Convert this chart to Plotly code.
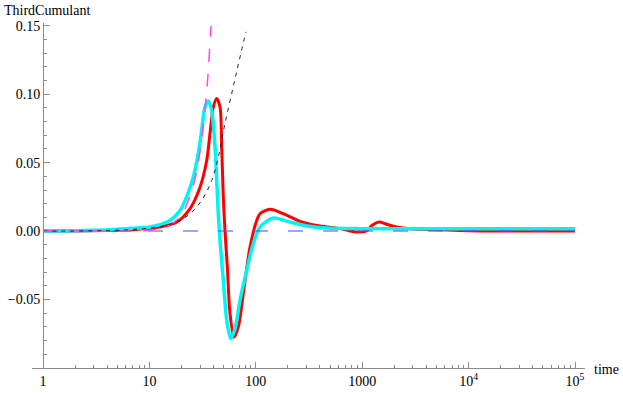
import plotly.graph_objects as go

# values (time on a log axis)
red_t = [1, 2, 4, 7, 10, 12.6, 18.1, 24.1, 29.9, 34.6, 37.1, 39.9, 42.9, 46.1, 47.8,
         49.5, 51.3, 54.0, 57.2, 62.4, 68.5, 76.3, 88.2, 102, 109.5, 136, 181, 260,
         401, 619, 750, 888, 1086, 1250, 1439, 1700, 2110, 2813, 5383, 10000, 100000]
red_v = [0, 0.0001, 0.0004, 0.001, 0.002, 0.003, 0.0066, 0.0164, 0.032, 0.0517, 0.0712,
         0.0906, 0.0968, 0.0906, 0.0614, 0.0249, 0.0005, -0.0263, -0.060, -0.0775, -0.070,
         -0.0458, -0.0117, 0.0078, 0.0127, 0.0159, 0.0127, 0.0071, 0.0037, 0.0018, 0.0003,
         -0.0007, 0.0, 0.0045, 0.0066, 0.005, 0.003, 0.0018, 0.001, 0.0003, 0.0]

cyan_t = [1, 2, 4.26, 7, 10.1, 15.6, 19.4, 22.4, 25.9, 28.8, 31.0, 33.3, 35.8, 38.5,
          41.4, 42.9, 44.4, 46.1, 49.5, 53.3, 58.1, 63.8, 71.0, 82.1, 94.7, 109.5, 146,
          209.6, 301, 464, 953, 2000, 10000, 100000]
cyan_v = [0, 0.0003, 0.001, 0.002, 0.003, 0.0078, 0.015, 0.025, 0.0395, 0.0566, 0.0736,
          0.0906, 0.095, 0.088, 0.0614, 0.037, 0.0127, -0.0068, -0.036, -0.065, -0.0785,
          -0.0713, -0.0507, -0.0287, -0.0092, 0.003, 0.0095, 0.0066, 0.0037, 0.0022,
          0.0018, 0.0018, 0.0018, 0.0018]

magenta_t = [1, 3, 6, 10, 15, 20, 23.1, 26.8, 30, 34.2, 36, 37.9]
magenta_v = [0, 0.0, 0.0001, 0.0007, 0.0037, 0.0116, 0.022, 0.038, 0.059, 0.098, 0.121, 0.150]

black_t = [1, 3, 6, 8.76, 12, 18.1, 24.1, 31.0, 38.5, 44.4, 51.3, 61.4, 70, 80.9]
black_v = [0, 0.0002, 0.0009, 0.0018, 0.003, 0.0066, 0.0127, 0.0224, 0.037, 0.054,
           0.0785, 0.1055, 0.125, 0.1455]

zero_t = [1, 100000]
zero_v = [0, 0]

x_ticks = [1, 10, 100, 1000, 10000, 100000]
x_labels = ['1', '10', '100', '1000', '10<sup>4</sup>', '10<sup>5</sup>']
x_minor = [m * d for d in [1, 10, 100, 1000, 10000] for m in range(2, 10)]
y_ticks = [-0.05, 0.0, 0.05, 0.10, 0.15]
y_labels = ['\u22120.05', '0.00', '0.05', '0.10', '0.15']
y_minor = [i / 100 for i in range(-10, 16) if i % 5 != 0]

AXIS = '#8c8c8c'
FONT = 'Liberation Serif, Times New Roman, serif'

traces = [
    go.Scatter(x=red_t, y=red_v, mode='lines',
               line=dict(color='#ff0000', width=3, shape='spline', smoothing=0.8)),
    go.Scatter(x=cyan_t, y=cyan_v, mode='lines',
               line=dict(color='#00f4f4', width=3.5, shape='spline', smoothing=0.8)),
    go.Scatter(x=zero_t, y=zero_v, mode='lines',
               line=dict(color='rgba(80,80,255,0.7)', width=1.5, dash='15px,20px')),
    go.Scatter(x=magenta_t, y=magenta_v, mode='lines',
               line=dict(color='#ff44ff', width=1.5, dash='13px,12px', shape='spline')),
    go.Scatter(x=black_t, y=black_v, mode='lines',
               line=dict(color='#222222', width=1, dash='4px,5px', shape='spline')),
]

layout = go.Layout(
    font=dict(family=FONT, size=14, color='black'),
    showlegend=False,
    xaxis=dict(
        type='log',
        range=[-0.1034, 5.094],
        automargin=False,
        showline=True, linecolor=AXIS, linewidth=1,
        ticks='inside', ticklen=6, tickcolor=AXIS,
        tickmode='array', tickvals=x_ticks, ticktext=x_labels,
        minor=dict(ticks='inside', ticklen=3, tickcolor=AXIS,
                   tickmode='array', tickvals=x_minor),
        showgrid=False, zeroline=False,
    ),
    yaxis=dict(
        range=[-0.1, 0.152],
        automargin=False,
        anchor='free', position=11 / 553,
        showline=True, linecolor=AXIS, linewidth=1,
        ticks='inside', ticklen=6, tickcolor=AXIS,
        tickmode='array', tickvals=y_ticks, ticktext=y_labels,
        minor=dict(ticks='inside', ticklen=3, tickcolor=AXIS,
                   tickmode='array', tickvals=y_minor),
        showgrid=False, zeroline=False,
    ),
    annotations=[
        dict(text='ThirdCumulant', xref='paper', yref='paper',
             x=(2 - 32) / 553, y=(368 - 11) / 345, xanchor='left', yanchor='middle',
             showarrow=False),
        dict(text='time', xref='paper', yref='paper',
             x=(621 - 32) / 553, y=(368 - 369) / 345, xanchor='right', yanchor='middle',
             showarrow=False),
    ],
    plot_bgcolor='white',
    paper_bgcolor='white',
    width=623,
    height=393,
    margin=dict(l=32, r=38, t=23, b=25),
)

fig = go.Figure(data=traces, layout=layout)
# drop the page's default body margin so the figure sits at the window's corner
fig.write_html("out.html", config={'displayModeBar': False},
               post_script="document.body.style.margin='0';")
